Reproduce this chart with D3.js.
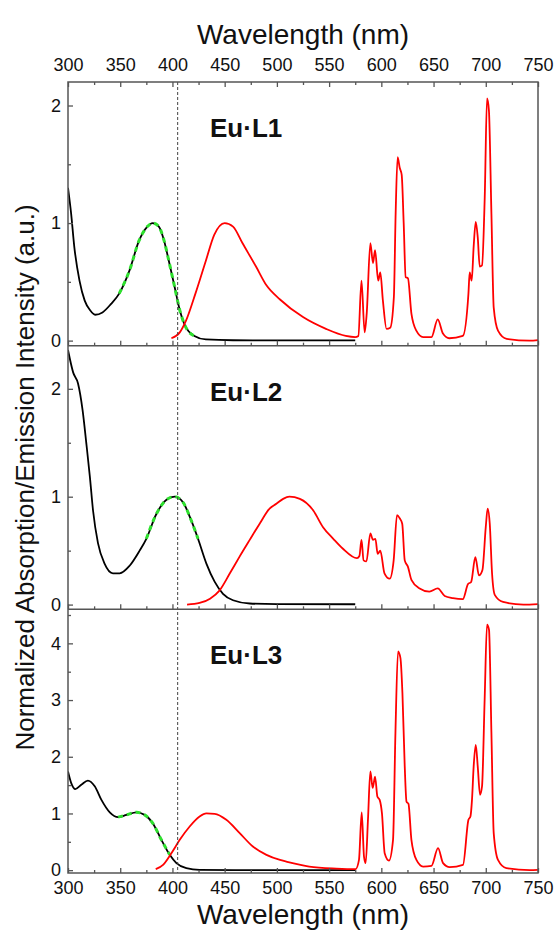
<!DOCTYPE html>
<html>
<head>
<meta charset="utf-8">
<script src="https://cdn.jsdelivr.net/npm/d3@7/dist/d3.min.js"></script>
<style>
  body { margin: 0; background: #fff; }
  svg text { font-family: Arial, "Liberation Sans", sans-serif; fill: #111; }
</style>
</head>
<body>
<script>
// Wavelength axis (shared by all three panels)
const xDomain = [300, 750];
const xMajorTicks = [300, 350, 400, 450, 500, 550, 600, 650, 700, 750];
const xMinorTicks = d3.range(325, 750, 50);
const excitationLine = 405;

// Panel names
const panelNames = ["Eu\u00b7L1", "Eu\u00b7L2", "Eu\u00b7L3"];

// Y domains and ticks for each panel
const yDomains = [[-0.043, 2.2], [-0.044, 2.4], [-0.05, 4.6]];
const yTicks = [[0, 1, 2], [0, 1, 2], [0, 1, 2, 3, 4]];

// Absorption spectra (black) [nm, normalized]
const absL1 = [[300,1.30],[303,1.08],[306,0.80],[311,0.51],[316,0.34],[321,0.26],[326,0.22],[333,0.24],[341,0.31],[349,0.40],[359,0.60],[368,0.85],[376,0.97],[381,1.0],[387,0.97],[392,0.85],[397,0.66],[402,0.46],[407,0.26],[413,0.11],[421,0.04],[432,0.01],[458,0.003],[500,0.002],[575,0.002]];
const absL2 = [[300,2.36],[305,2.15],[309.6,2.05],[314,1.80],[317.6,1.49],[321,1.18],[324,0.87],[328.7,0.57],[335,0.38],[343,0.29],[349.5,0.29],[359,0.36],[368.6,0.50],[375,0.61],[384.6,0.84],[394,0.97],[402,1.0],[410,0.95],[418,0.78],[424.5,0.61],[432.5,0.38],[440.5,0.21],[448.4,0.10],[458,0.04],[474,0.01],[500,0.004],[575,0.003]];
const absL3 = [[300,1.74],[303,1.54],[307,1.43],[313,1.51],[319,1.58],[325.6,1.48],[332,1.24],[340,1.02],[348,0.935],[356,0.975],[365.5,1.02],[373.4,0.975],[381.4,0.82],[389.4,0.535],[397.4,0.27],[403.8,0.124],[413.3,0.035],[426,0.005],[460,0.002],[575,0.002]];

// Wavelength range of the green dashed fit over the absorption band
const fitRanges = [[349, 421], [375, 424.5], [348, 400]];

// Emission spectra (red) [nm, normalized]
const emL1 = [[399,0.02],[407,0.07],[413,0.17],[422,0.40],[432,0.68],[440,0.90],[450,1.0],[458,0.97],[467,0.83],[480,0.63],[490,0.47],[503,0.35],[525,0.20],[547,0.10],[566,0.04],[575,0.03],[578,0.04],[581,0.51],[584,0.07],[586,0.23],[589.5,0.83],[592,0.66],[594,0.77],[597,0.51],[599,0.58],[601.5,0.34],[605,0.10],[608.5,0.11],[612,0.37],[613.7,1.08],[615.6,1.56],[617.6,1.47],[619.5,1.41],[621.4,1.0],[623.3,0.54],[625.5,0.53],[628.8,0.23],[633.5,0.085],[640,0.03],[648,0.03],[654,0.18],[659,0.06],[665,0.02],[678,0.04],[683.4,0.40],[684.6,0.58],[686.5,0.51],[688.4,0.80],[690.4,1.01],[692.3,0.88],[694.2,0.63],[696.4,0.64],[699,1.22],[701.2,2.06],[703,1.96],[705.4,1.08],[707.6,0.28],[711.7,0.085],[720,0.015],[742,0.0],[750,0.005]];
const emL2 = [[414,0.0],[426,0.015],[436,0.055],[445,0.13],[455,0.29],[464,0.44],[474,0.60],[483.5,0.75],[493,0.89],[499.5,0.935],[506,0.98],[512,1.0],[522,0.98],[535,0.87],[544,0.72],[554,0.61],[563,0.52],[576.7,0.43],[579,0.45],[581,0.60],[583,0.41],[585.7,0.40],[589.5,0.66],[592,0.60],[594.3,0.61],[596.5,0.47],[599,0.50],[603,0.29],[608,0.24],[611.8,0.41],[615,0.83],[617.6,0.80],[620,0.75],[622.4,0.41],[625.5,0.35],[628.8,0.23],[636.7,0.15],[646,0.12],[654,0.15],[660.7,0.08],[668.6,0.06],[678,0.05],[683,0.19],[686,0.21],[690,0.44],[693.5,0.27],[696.8,0.32],[700,0.72],[701.8,0.89],[703.8,0.75],[706,0.29],[708.6,0.09],[716.5,0.024],[736,0.0],[750,0.005]];
const emL3 = [[384,0.018],[391,0.094],[399,0.30],[407,0.535],[416.5,0.77],[426,0.946],[432.5,1.0],[440.5,0.994],[451.6,0.888],[464.4,0.653],[477,0.417],[490,0.27],[503,0.18],[509,0.152],[531,0.064],[557,0.028],[575.4,0.018],[578.6,0.18],[581.2,1.02],[583.4,0.24],[585,0.124],[587.2,0.888],[589.5,1.74],[591.7,1.45],[594,1.65],[596.2,1.30],[598.4,1.24],[600.6,1.0],[603.2,0.30],[607.3,0.17],[611.2,0.535],[613.5,2.42],[616,3.86],[618.3,3.74],[620.2,3.12],[622.4,1.83],[624.1,1.21],[626,1.17],[628.8,0.535],[633.6,0.18],[640,0.064],[648,0.076],[654.3,0.388],[659.1,0.124],[665.5,0.053],[678.2,0.094],[683.4,0.888],[685.3,0.946],[686.8,1.24],[688.4,1.83],[690.4,2.21],[692.3,1.83],[694.5,1.33],[696.4,1.476],[698.9,3.0],[701.2,4.33],[703.1,4.24],[705.4,2.42],[707.6,0.653],[711.7,0.18],[719.7,0.035],[742,0.0],[750,0.005]];

const absData = [absL1, absL2, absL3];
const emData = [emL1, emL2, emL3];

// layout
const W = 555, H = 931;
const plotLeft = 68, plotRight = 538, plotTop = 82, plotBottom = 873;
const panelH = (plotBottom - plotTop) / 3;
const frameColor = "#555";

const svg = d3.select("body").append("svg")
  .attr("width", W).attr("height", H);

const x = d3.scaleLinear().domain(xDomain).range([plotLeft, plotRight]);

const line = y => d3.line()
  .x(d => x(d[0]))
  .y(d => y(d[1]))
  .curve(d3.curveMonotoneX);

panelNames.forEach((name, i) => {
  const pTop = plotTop + i * panelH;
  const pBot = pTop + panelH;
  const y = d3.scaleLinear().domain(yDomains[i]).range([pBot, pTop]);

  svg.append("clipPath").attr("id", "clip" + i)
    .append("rect")
    .attr("x", plotLeft).attr("y", pTop)
    .attr("width", plotRight - plotLeft).attr("height", panelH);

  const g = svg.append("g").attr("clip-path", `url(#clip${i})`);

  // absorption
  g.append("path")
    .datum(absData[i])
    .attr("fill", "none")
    .attr("stroke", "#000")
    .attr("stroke-width", 1.8)
    .attr("d", line(y));

  // fit (green dashed) on top of the absorption band
  g.append("path")
    .datum(absData[i])
    .attr("fill", "none")
    .attr("stroke", "#2ee02e")
    .attr("stroke-width", 3)
    .attr("stroke-dasharray", "5,4")
    .attr("d", line(y).defined(d => d[0] >= fitRanges[i][0] && d[0] <= fitRanges[i][1]));

  // emission
  g.append("path")
    .datum(emData[i])
    .attr("fill", "none")
    .attr("stroke", "#ff0000")
    .attr("stroke-width", 1.8)
    .attr("d", line(y));

  // left axis: major + minor ticks pointing inward
  const yMinor = d3.range(0.5, yDomains[i][1], 1);
  svg.append("g")
    .attr("transform", `translate(${plotLeft},0)`)
    .call(d3.axisLeft(y).tickValues(yMinor).tickSize(-3).tickFormat(""))
    .call(a => a.select(".domain").remove())
    .selectAll("line").attr("stroke", frameColor).attr("stroke-width", 1.3);

  const ya = svg.append("g")
    .attr("transform", `translate(${plotLeft},0)`)
    .call(d3.axisLeft(y).tickValues(yTicks[i]).tickSize(-5).tickPadding(7).tickFormat(d3.format("d")));
  ya.select(".domain").remove();
  ya.selectAll("line").attr("stroke", frameColor).attr("stroke-width", 1.3);
  ya.selectAll("text").attr("font-size", 18).attr("fill", "#111");

  // bottom ticks of each panel (pointing up)
  const xb = svg.append("g")
    .attr("transform", `translate(0,${pBot})`)
    .call(d3.axisBottom(x).tickValues(xMajorTicks).tickSize(-5).tickPadding(8)
      .tickFormat(i === 2 ? d3.format("d") : ""));
  xb.select(".domain").remove();
  xb.selectAll("line").attr("stroke", frameColor).attr("stroke-width", 1.3);
  xb.selectAll("text").attr("font-size", 18).attr("fill", "#111");

  svg.append("g")
    .attr("transform", `translate(0,${pBot})`)
    .call(d3.axisBottom(x).tickValues(xMinorTicks).tickSize(-3).tickFormat(""))
    .call(a => a.select(".domain").remove())
    .selectAll("line").attr("stroke", frameColor).attr("stroke-width", 1.3);

  // panel label
  svg.append("text")
    .attr("x", 210)
    .attr("y", pTop + 55)
    .attr("font-size", 26)
    .attr("font-weight", "bold")
    .text(name);
});

// top axis (only on the first panel)
const xt = svg.append("g")
  .attr("transform", `translate(0,${plotTop})`)
  .call(d3.axisTop(x).tickValues(xMajorTicks).tickSize(-5).tickPadding(11).tickFormat(d3.format("d")));
xt.select(".domain").remove();
xt.selectAll("line").attr("stroke", frameColor).attr("stroke-width", 1.3);
xt.selectAll("text").attr("font-size", 18).attr("fill", "#111");

svg.append("g")
  .attr("transform", `translate(0,${plotTop})`)
  .call(d3.axisTop(x).tickValues(xMinorTicks).tickSize(-3).tickFormat(""))
  .call(a => a.select(".domain").remove())
  .selectAll("line").attr("stroke", frameColor).attr("stroke-width", 1.3);

// excitation wavelength marker
svg.append("line")
  .attr("x1", x(excitationLine)).attr("x2", x(excitationLine))
  .attr("y1", plotTop).attr("y2", plotBottom)
  .attr("stroke", "#444")
  .attr("stroke-width", 1)
  .attr("stroke-dasharray", "3,2");

// frame and panel separators
svg.append("rect")
  .attr("x", plotLeft).attr("y", plotTop)
  .attr("width", plotRight - plotLeft).attr("height", plotBottom - plotTop)
  .attr("fill", "none")
  .attr("stroke", frameColor)
  .attr("stroke-width", 1.5);

[1, 2].forEach(k => {
  svg.append("line")
    .attr("x1", plotLeft).attr("x2", plotRight)
    .attr("y1", plotTop + k * panelH).attr("y2", plotTop + k * panelH)
    .attr("stroke", frameColor)
    .attr("stroke-width", 1.5);
});

// axis titles
svg.append("text")
  .attr("x", (plotLeft + plotRight) / 2)
  .attr("y", 44)
  .attr("text-anchor", "middle")
  .attr("font-size", 28)
  .text("Wavelength (nm)");

svg.append("text")
  .attr("x", (plotLeft + plotRight) / 2)
  .attr("y", 924)
  .attr("text-anchor", "middle")
  .attr("font-size", 28)
  .text("Wavelength (nm)");

svg.append("text")
  .attr("transform", `translate(34,${(plotTop + plotBottom) / 2}) rotate(-90)`)
  .attr("text-anchor", "middle")
  .attr("font-size", 26)
  .text("Normalized Absorption/Emission Intensity (a.u.)");
</script>
</body>
</html>
